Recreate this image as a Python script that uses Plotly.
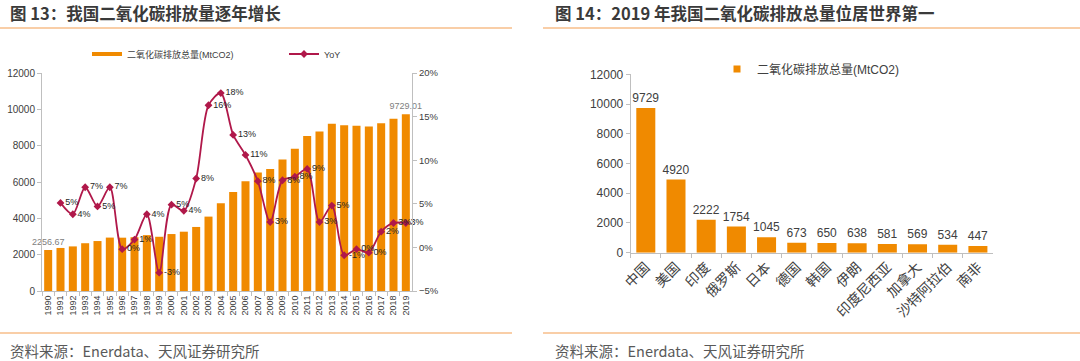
import plotly.graph_objects as go

# ---------------- data: figure 13 ----------------
years = ["1990", "1991", "1992", "1993", "1994", "1995", "1996", "1997", "1998", "1999",
         "2000", "2001", "2002", "2003", "2004", "2005", "2006", "2007", "2008", "2009",
         "2010", "2011", "2012", "2013", "2014", "2015", "2016", "2017", "2018", "2019"]
emissions = [2256.67, 2370, 2455, 2630, 2750, 2940, 2935, 2960, 3075, 2985,
             3135, 3265, 3525, 4095, 4825, 5450, 6040, 6520, 6720, 7240,
             7830, 8530, 8780, 9200, 9120, 9100, 9060, 9230, 9480, 9729.01]
emission_labels = ["2256.67"] + [""] * 28 + ["9729.01"]
yoy = [None, 5.1, 3.8, 6.9, 4.7, 6.9, -0.2, 0.9, 3.8, -2.9,
       4.9, 4.2, 7.9, 16.3, 17.7, 12.9, 10.6, 7.6, 2.9, 7.7,
       8.1, 9.0, 2.9, 4.8, -0.9, -0.2, -0.6, 1.8, 2.8, 2.8]
yoy_labels = ["", "5%", "4%", "7%", "5%", "7%", "0%", "1%", "4%", "-3%",
              "5%", "4%", "8%", "16%", "18%", "13%", "11%", "8%", "3%", "8%",
              "8%", "9%", "3%", "5%", "-1%", "0%", "0%", "2%", "3%", "3%"]

# ---------------- data: figure 14 ----------------
countries = ["中国", "美国", "印度", "俄罗斯", "日本", "德国", "韩国", "伊朗",
             "印度尼西亚", "加拿大", "沙特阿拉伯", "南非"]
country_emissions = [9729, 4920, 2222, 1754, 1045, 673, 650, 638, 581, 569, 534, 447]

series_name = "二氧化碳排放总量(MtCO2)"
yoy_name = "YoY"
title_left = "图 13：我国二氧化碳排放量逐年增长"
title_right = "图 14：2019 年我国二氧化碳排放总量位居世界第一"
source_text = "资料来源：Enerdata、天风证券研究所"

# ---------------- style ----------------
W, H = 1080, 361
ORANGE = "#F08A00"
CRIMSON = "#B0184A"
AXIS = "#BFBFBF"
TXT = "#404040"
SEP = "#F7BE8A"
FONT = "Liberation Sans, Arial, Noto Sans CJK SC, sans-serif"


def px(x):
    return x / W


def py(y):
    return 1 - y / H


fig = go.Figure()

# left chart bars
fig.add_trace(go.Bar(
    x=years, y=emissions, width=0.65, marker=dict(color=ORANGE, line=dict(width=0)),
    text=emission_labels, textposition="outside", cliponaxis=False, constraintext="none",
    textfont=dict(size=9, color="#808080"), showlegend=False,
    xaxis="x", yaxis="y", hoverinfo="x+y"))
# legend-only entry for the bar series (line swatch, as in reference)
fig.add_trace(go.Scatter(
    x=[None], y=[None], mode="lines", line=dict(color=ORANGE, width=4),
    name=series_name, legend="legend", xaxis="x", yaxis="y"))
# YoY line
fig.add_trace(go.Scatter(
    x=years, y=yoy, mode="lines+markers+text", name=yoy_name,
    line=dict(color=CRIMSON, width=1.8, shape="spline", smoothing=0.8),
    marker=dict(symbol="diamond", size=6, color=CRIMSON),
    text=yoy_labels, textposition="middle right", cliponaxis=False,
    textfont=dict(size=9, color="#262626"),
    legend="legend", xaxis="x", yaxis="y2", connectgaps=False))

# right chart bars
fig.add_trace(go.Bar(
    x=countries, y=country_emissions, width=0.63, marker=dict(color=ORANGE, line=dict(width=0)),
    texttemplate="%{y}", textposition="outside", cliponaxis=False, constraintext="none",
    textfont=dict(size=12, color=TXT), showlegend=False,
    xaxis="x2", yaxis="y3"))
fig.add_trace(go.Scatter(
    x=[None], y=[None], mode="markers", marker=dict(symbol="square", size=7, color=ORANGE),
    name=series_name, legend="legend2", xaxis="x2", yaxis="y3"))

axis_common = dict(showline=True, linecolor=AXIS, linewidth=1, ticks="outside",
                   tickcolor=AXIS, ticklen=4, showgrid=False, zeroline=False,
                   fixedrange=True, automargin=False)

fig.update_layout(
    width=W, height=H, autosize=False,
    margin=dict(l=0, r=0, t=0, b=0, pad=0, autoexpand=False),
    paper_bgcolor="white", plot_bgcolor="white",
    font=dict(family=FONT, color=TXT),
    xaxis=dict(domain=[px(42), px(412)], anchor="y", type="category",
               range=[-0.5, 29.5], tickangle=-90, tickson="boundaries",
               tickfont=dict(size=9, color=TXT), **axis_common),
    yaxis=dict(domain=[py(291), py(73)], anchor="x", range=[0, 12000], dtick=2000,
               tickformat="d", tickfont=dict(size=10, color=TXT), **axis_common),
    yaxis2=dict(overlaying="y", anchor="x", side="right", range=[-5, 20], dtick=5,
                ticksuffix="%", tickfont=dict(size=9.5, color=TXT), **axis_common),
    xaxis2=dict(domain=[px(630.7), px(993)], anchor="y3", type="category",
                range=[-0.5, 11.5], tickangle=-45, tickson="boundaries",
                tickfont=dict(size=14, color=TXT), **axis_common),
    yaxis3=dict(domain=[py(252.7), py(74.3)], anchor="x2", range=[0, 12000], dtick=2000,
                tickformat="d", tickfont=dict(size=12, color=TXT), **axis_common),
    legend=dict(orientation="h", x=px(87), y=py(54), xanchor="left", yanchor="middle",
                entrywidth=152, entrywidthmode="pixels", bgcolor="rgba(0,0,0,0)",
                font=dict(size=9, color=TXT), traceorder="normal"),
    legend2=dict(orientation="h", x=px(717), y=py(69), xanchor="left", yanchor="middle",
                 bgcolor="rgba(0,0,0,0)", font=dict(size=12, color=TXT)),
)

# titles and sources
for x0, t in [(8, title_left), (553, title_right)]:
    fig.add_annotation(text="<b>" + t + "</b>", x=px(x0), y=py(13), xref="paper", yref="paper",
                       xanchor="left", yanchor="middle", align="left", showarrow=False,
                       font=dict(size=16.5, color="#3A3A3A", family="Noto Sans CJK SC, sans-serif"))
    fig.add_annotation(text=source_text, x=px(x0), y=py(350), xref="paper", yref="paper",
                       xanchor="left", yanchor="middle", align="left", showarrow=False,
                       font=dict(size=14.5, color="#595959", family="Noto Sans CJK SC, sans-serif"))

# separator lines
for (xa, xb) in [(0, 512), (543, 1080)]:
    for yy in (28, 333):
        fig.add_shape(type="line", xref="paper", yref="paper", x0=px(xa), x1=px(xb),
                      y0=py(yy), y1=py(yy), line=dict(color=SEP, width=1.5))

fig.write_html("out.html", config={"displayModeBar": False},
               post_script="document.body.style.margin='0';document.body.style.overflow='hidden';")
